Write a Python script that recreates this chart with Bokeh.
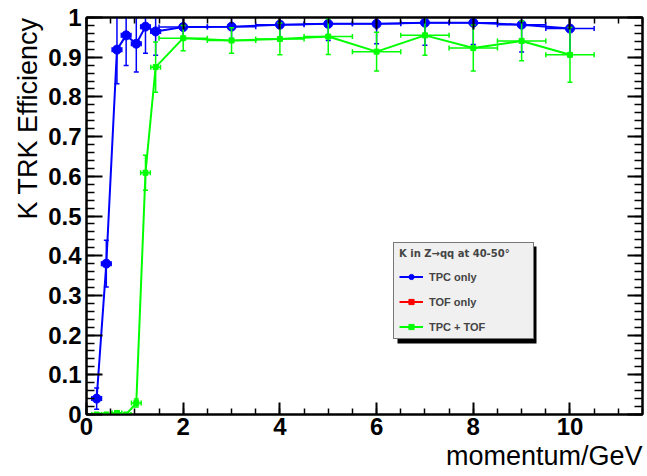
import math
from bokeh.plotting import figure
from bokeh.models import (Range1d, FixedTicker, LinearAxis, Legend, LegendItem,
                          Title, BoxAnnotation)
from bokeh.embed import file_html
from bokeh.resources import INLINE

# ---------------- data ----------------
momentum = [0.21, 0.41, 0.63, 0.82, 1.03, 1.22, 1.43, 2, 3, 4, 5, 6, 7, 8, 9, 10]
momentum_err = [0.1, 0.1, 0.1, 0.1, 0.1, 0.1, 0.1, 0.5, 0.5, 0.5, 0.5, 0.5, 0.5, 0.5, 0.5, 0.5]

eff_tpc = [0.040, 0.380, 0.919, 0.955, 0.934, 0.977, 0.965, 0.976,
           0.977, 0.982, 0.984, 0.984, 0.987, 0.987, 0.982, 0.972]
err_tpc = [0.027, 0.059, 0.086, 0.076, 0.071, 0.067, 0.060, 0.030,
           0.030, 0.040, 0.042, 0.050, 0.057, 0.055, 0.069, 0.070]

# "TOF only" has no visible points in the reference (legend entry only)
momentum_tof = [float("nan")]
momentum_err_tof = [float("nan")]
eff_tof = [float("nan")]
err_tof = [float("nan")]

eff_tpc_tof = [0.000, 0.000, 0.004, 0.000, 0.029, 0.609, 0.875, 0.948,
               0.942, 0.946, 0.952, 0.914, 0.955, 0.923, 0.941, 0.906]
err_tpc_tof = [0.003, 0.003, 0.004, 0.003, 0.010, 0.044, 0.063, 0.032,
               0.032, 0.040, 0.045, 0.049, 0.050, 0.058, 0.050, 0.069]

x_ticks = [0, 2, 4, 6, 8, 10]
x_tick_labels = ["0", "2", "4", "6", "8", "10"]
y_ticks = [0, 0.1, 0.2, 0.3, 0.4, 0.5, 0.6, 0.7, 0.8, 0.9, 1]
y_tick_labels = ["0", "0.1", "0.2", "0.3", "0.4", "0.5", "0.6", "0.7", "0.8", "0.9", "1"]

legend_title = "K in Z\u2192qq at 40-50\u00b0"
series_labels = ["TPC only", "TOF only", "TPC + TOF"]
x_title = "momentum/GeV"
y_title = "K TRK Efficiency"

# ---------------- layout ----------------
W, H = 647, 476
FL, FR, FT, FB = 86, 642, 17, 414          # frame edges in canvas px
X_MIN, X_MAX, Y_MIN, Y_MAX = 0, 11.5, 0, 1

def px_x(px):
    return X_MIN + (px - FL) / (FR - FL) * (X_MAX - X_MIN)

def px_y(py):
    return Y_MIN + (FB - py) / (FB - FT) * (Y_MAX - Y_MIN)

p = figure(width=W, height=H, output_backend="svg", toolbar_location=None,
           x_range=Range1d(X_MIN, X_MAX), y_range=Range1d(Y_MIN, Y_MAX),
           min_border_left=FL, min_border_right=W - FR,
           min_border_top=FT, min_border_bottom=H - FB)
p.xgrid.visible = False
p.ygrid.visible = False
p.outline_line_color = "black"
p.outline_line_width = 2
p.background_fill_color = "white"
p.border_fill_color = "white"

x_minor = [i * 0.5 for i in range(0, 24)]
y_minor = [round(i * 0.02, 2) for i in range(0, 51)]
xt = FixedTicker(ticks=x_ticks, minor_ticks=x_minor)
yt = FixedTicker(ticks=y_ticks, minor_ticks=y_minor)

def style(ax, major, minor, labels, standoff=5):
    ax.axis_line_width = 2
    ax.axis_line_color = "black"
    ax.major_tick_in = major
    ax.major_tick_out = 0
    ax.minor_tick_in = minor
    ax.minor_tick_out = 0
    ax.major_tick_line_width = 2
    ax.minor_tick_line_width = 1.5
    ax.major_label_text_font = "Liberation Sans"
    ax.major_label_text_font_style = "bold"
    ax.major_label_text_font_size = "24px"
    ax.major_label_text_color = "black"
    ax.major_label_standoff = standoff
    if not labels:
        ax.major_label_overrides = {t: "" for t in ax.ticker.ticks}
        ax.major_label_standoff = 0

xa = p.xaxis[0]
xa.ticker = xt
xa.major_label_overrides = {t: s for t, s in zip(x_ticks, x_tick_labels)}
style(xa, 12, 6, True, standoff=3)
ya = p.yaxis[0]
ya.ticker = yt
ya.major_label_overrides = {t: s for t, s in zip(y_ticks, y_tick_labels)}
style(ya, 16, 8, True, standoff=5)

top = LinearAxis(ticker=xt)
style(top, 12, 6, False)
p.add_layout(top, "above")
right = LinearAxis(ticker=yt)
style(right, 15, 8, False)
p.add_layout(right, "right")

# ---------------- series ----------------
def draw(x, ex, y, ey, color, marker, size):
    lo = [v - e for v, e in zip(y, ey)]
    hi = [v + e for v, e in zip(y, ey)]
    xl = [v - e for v, e in zip(x, ex)]
    xh = [v + e for v, e in zip(x, ex)]
    p.segment(x, lo, x, hi, line_color=color, line_width=1.5)
    p.segment(xl, y, xh, y, line_color=color, line_width=1.5)
    p.scatter(x + x, lo + hi, marker="dash", size=5, line_color=color, line_width=1.5)
    p.scatter(xl + xh, y + y, marker="dash", angle=math.pi / 2, size=5,
              line_color=color, line_width=1.5)
    ln = p.line(x, y, line_color=color, line_width=2)
    pt = p.scatter(x, y, marker=marker, size=size, fill_color=color, line_color=color)
    return ln, pt

r_tpc = draw(momentum, momentum_err, eff_tpc, err_tpc, "#0000ff", "circle", 9)
r_tof = draw(momentum_tof, momentum_err_tof, eff_tof, err_tof, "#ff0000", "square", 4)
r_both = draw(momentum, momentum_err, eff_tpc_tof, err_tpc_tof, "#00ff00", "square", 5)

# ---------------- legend with shadow ----------------
LX, LY, LW, LH, SH = 393, 242, 139, 97, 4   # legend box in canvas px
shadow = BoxAnnotation(left=px_x(LX + SH), right=px_x(LX + LW + SH),
                       top=px_y(LY + SH), bottom=px_y(LY + LH + SH),
                       fill_color="black", fill_alpha=1, line_color=None)
p.add_layout(shadow)

legend = Legend(items=[LegendItem(label=series_labels[0], renderers=list(r_tpc)),
                       LegendItem(label=series_labels[1], renderers=list(r_tof)),
                       LegendItem(label=series_labels[2], renderers=list(r_both))],
                location=(LX - FL, FB - (LY + LH)),
                title=legend_title,
                title_text_font="DejaVu Sans", title_text_font_style="bold",
                title_text_font_size="10px", title_standoff=11,
                label_text_font="Liberation Sans", label_text_font_style="bold",
                label_text_font_size="11px",
                glyph_width=24, glyph_height=13, label_height=13, label_width=LW - 10 - 24 - 6,
                label_standoff=6, spacing=12, padding=5, margin=0,
                border_line_color="black", border_line_width=1,
                background_fill_color="#f0f0f0", background_fill_alpha=1)
p.add_layout(legend)

# ---------------- axis titles ----------------
p.add_layout(Title(text=y_title, align="right", text_font="Liberation Sans",
                   text_font_style="normal", text_font_size="27px",
                   text_color="black", standoff=6), "left")
p.add_layout(Title(text=x_title, align="right", text_font="Liberation Sans",
                   text_font_style="normal", text_font_size="27px",
                   text_color="black", standoff=3), "below")

open("out.html", "w").write(file_html(p, INLINE))
